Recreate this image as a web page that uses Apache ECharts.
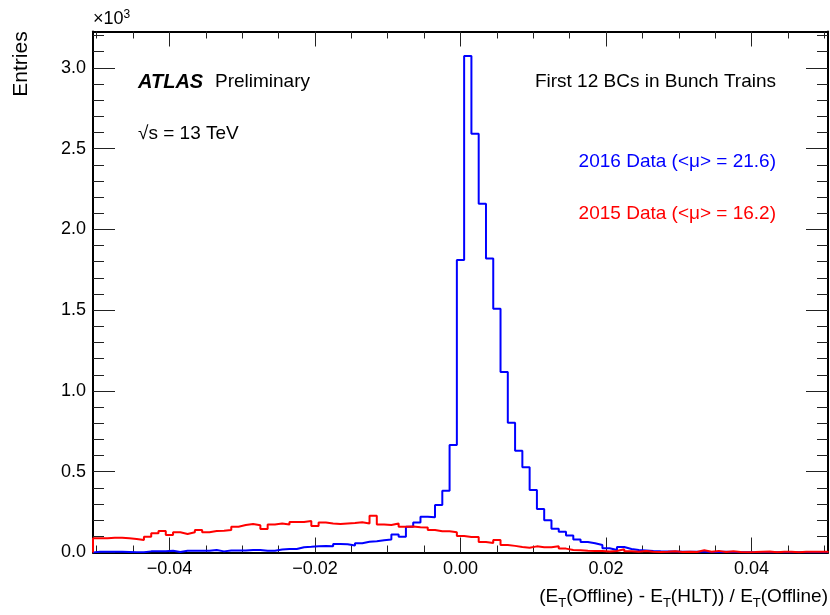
<!DOCTYPE html>
<html><head><meta charset="utf-8">
<script src="https://cdn.jsdelivr.net/npm/echarts@6/dist/echarts.min.js"></script>
<style>html,body{margin:0;padding:0;background:#fff}#c{width:830px;height:615px}</style>
</head><body><div id="c"></div>
<script>
// Histogram binning: 101 bins of width 0.001 centred on -0.050 ... 0.050
const binLow = -0.0505;
const binWidth = 0.001;
// 2016 Data (<mu> = 21.6), entries per bin
const data2016 = [
  5, 5, 5, 5, 3, 1, 1, 7, 7, 7,
  11, 3, 11, 11, 11, 11, 15, 7, 13, 13,
  13, 15, 15, 11, 11, 18, 22, 22, 33, 35,
  38, 40, 38, 52, 51, 44, 57, 66, 70, 76,
  80, 112, 98, 160, 185, 222, 218, 294, 383, 665,
  1810, 3074, 2592, 2158, 1820, 1509, 1117, 803, 630, 527,
  387, 269, 199, 147, 129, 105, 81, 65, 57, 46,
  26, 15, 34, 22, 15, 12, 9, 7, 6, 6,
  5, 4, 5, 4, 3, 3, 4, 3, 2, 2,
  1, 2, 1, 2, 1, 1, 1, 1, 2, 1,
  1
];
// 2015 Data (<mu> = 16.2), entries per bin
const data2015 = [
  88, 88, 92, 92, 88, 84, 77, 98, 119, 133,
  108, 125, 114, 125, 139, 125, 133, 135, 139, 160,
  170, 176, 168, 145, 174, 180, 174, 189, 189, 195,
  164, 185, 180, 176, 180, 183, 187, 180, 228, 174,
  170, 180, 159, 161, 157, 154, 139, 131, 131, 125,
  102, 96, 96, 65, 59, 77, 46, 41, 34, 30,
  38, 32, 32, 39, 24, 15, 14, 11, 9, 9,
  6, 9, 20, 7, 4, 10, 5, 3, 5, 8,
  3, 5, 3, 14, 5, 10, 3, 8, 3, 2,
  3, 5, 6, 2, 5, 4, 2, 5, 5, 4,
  5
];
const xMin = -0.0505, xMax = 0.0505;
const yMin = 0, yMax = 3225;
const xMajorTicks = [-0.04, -0.02, 0, 0.02, 0.04];
const xTickLabels = ['\u22120.04', '\u22120.02', '0.00', '0.02', '0.04'];
const xMinorTicks = [-0.05, -0.045, -0.035, -0.03, -0.025, -0.015, -0.01, -0.005, 0.005, 0.01, 0.015, 0.025, 0.03, 0.035, 0.045, 0.05];
const yMajorTicks = [0, 500, 1000, 1500, 2000, 2500, 3000];
const yTickLabels = ['0.0', '0.5', '1.0', '1.5', '2.0', '2.5', '3.0'];
const yMinorTicks = [100,200,300,400,600,700,800,900,1100,1200,1300,1400,1600,1700,1800,1900,2100,2200,2300,2400,2600,2700,2800,2900,3100,3200];

const FONT = '"Liberation Sans", Arial, Helvetica, sans-serif';

function stepPoints(vals) {
  const pts = [[binLow, 0]];
  vals.forEach((v, i) => {
    const a = binLow + i * binWidth;
    pts.push([a, v], [a + binWidth, v]);
  });
  pts.push([binLow + vals.length * binWidth, 0]);
  return pts;
}

function xAx(pos, ticks, len, line, labels) {
  return {
    type: 'value', min: xMin, max: xMax, position: pos,
    axisLine: { show: line, onZero: false, lineStyle: { color: '#000', width: 2 } },
    axisTick: { show: true, inside: true, length: len, customValues: ticks, lineStyle: { color: '#222', width: 1 } },
    axisLabel: labels ? {
      show: true, customValues: xMajorTicks, margin: 8, fontSize: 18, color: '#000', fontFamily: FONT,
      formatter: v => xTickLabels[xMajorTicks.findIndex(t => Math.abs(t - v) < 1e-9)]
    } : { show: false },
    splitLine: { show: false }
  };
}
function yAx(pos, ticks, len, line, labels) {
  return {
    type: 'value', min: yMin, max: yMax, position: pos,
    axisLine: { show: line, onZero: false, lineStyle: { color: '#000', width: 2 } },
    axisTick: { show: true, inside: true, length: len, customValues: ticks, lineStyle: { color: '#222', width: 1 } },
    axisLabel: labels ? {
      show: true, customValues: yMajorTicks, margin: 7, fontSize: 18, color: '#000', fontFamily: FONT,
      formatter: v => yTickLabels[yMajorTicks.indexOf(v)]
    } : { show: false },
    splitLine: { show: false }
  };
}

const chart = echarts.init(document.getElementById('c'), null, { renderer: 'canvas' });
chart.setOption({
  animation: false,
  backgroundColor: '#fff',
  grid: { left: 93, right: 2, top: 31.5, bottom: 62.5, containLabel: false, outerBoundsMode: 'none' },
  xAxis: [
    xAx('bottom', xMajorTicks, 15, true, true),
    xAx('bottom', xMinorTicks, 7, false, false),
    xAx('top', xMajorTicks, 15, true, false),
    xAx('top', xMinorTicks, 7, false, false)
  ],
  yAxis: [
    yAx('left', yMajorTicks, 22, true, true),
    yAx('left', yMinorTicks, 11, false, false),
    yAx('right', yMajorTicks, 22, true, false),
    yAx('right', yMinorTicks, 11, false, false)
  ],
  series: [
    { name: '2016', type: 'line', xAxisIndex: 0, yAxisIndex: 0, data: stepPoints(data2016),
      showSymbol: false, symbol: 'none', lineStyle: { color: '#0000ff', width: 2 }, z: 3 },
    { name: '2015', type: 'line', xAxisIndex: 0, yAxisIndex: 0, data: stepPoints(data2015),
      showSymbol: false, symbol: 'none', lineStyle: { color: '#ff0000', width: 2 }, z: 4 }
  ],
  graphic: [
    { type: 'text', x: 21, y: 64, rotation: Math.PI / 2,
      style: { text: 'Entries', font: '21px ' + FONT, fill: '#000', textAlign: 'center', textVerticalAlign: 'middle' } },
    { type: 'text', x: 93, y: 29,
      style: { text: '\u00d710{s|3}', font: '18px ' + FONT, fill: '#000', textAlign: 'left', textVerticalAlign: 'bottom',
        rich: { s: { fontSize: 12, fontFamily: FONT, verticalAlign: 'top', padding: [0, 0, 8, 0] } } } },
    { type: 'text', x: 138, y: 82,
      style: { text: 'ATLAS', font: 'italic bold 20px ' + FONT, fill: '#000', textAlign: 'left', textVerticalAlign: 'middle' } },
    { type: 'text', x: 215, y: 82,
      style: { text: 'Preliminary', font: '19px ' + FONT, fill: '#000', textAlign: 'left', textVerticalAlign: 'middle' } },
    { type: 'text', x: 138, y: 134,
      style: { text: '\u221as = 13 TeV', font: '19px ' + FONT, fill: '#000', textAlign: 'left', textVerticalAlign: 'middle' } },
    { type: 'text', x: 776, y: 82,
      style: { text: 'First 12 BCs in Bunch Trains', font: '19px ' + FONT, fill: '#000', textAlign: 'right', textVerticalAlign: 'middle' } },
    { type: 'text', x: 776, y: 162,
      style: { text: '2016 Data (<\u03bc> = 21.6)', font: '19px ' + FONT, fill: '#0000ff', textAlign: 'right', textVerticalAlign: 'middle' } },
    { type: 'text', x: 776, y: 214,
      style: { text: '2015 Data (<\u03bc> = 16.2)', font: '19px ' + FONT, fill: '#ff0000', textAlign: 'right', textVerticalAlign: 'middle' } },
    { type: 'text', x: 828, y: 597,
      style: { text: '(E{t|T}(Offline) - E{t|T}(HLT)) / E{t|T}(Offline)', font: '19px ' + FONT, fill: '#000',
        textAlign: 'right', textVerticalAlign: 'middle',
        rich: { t: { fontSize: 13, fontFamily: FONT, verticalAlign: 'bottom', padding: [12, 0, 0, 0] } } } }
  ]
});
</script></body></html>
